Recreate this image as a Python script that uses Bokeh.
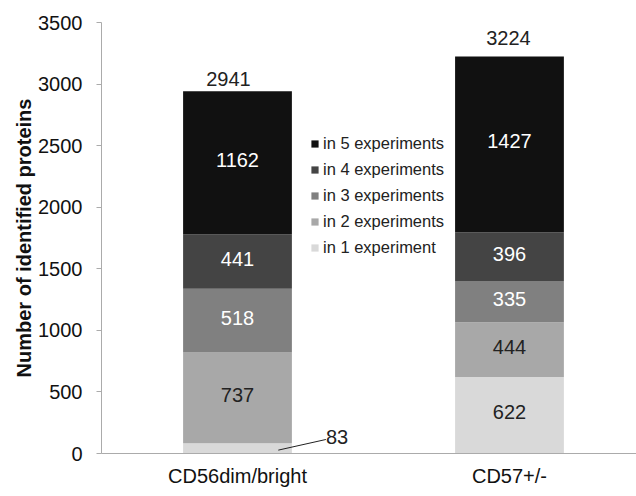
from bokeh.plotting import figure
from bokeh.models import Range1d, FixedTicker, ColumnDataSource, Legend, LegendItem
from bokeh.embed import file_html
from bokeh.resources import INLINE
from bokeh.core.properties import value
import numpy as np

# ---- data ----
categories = ["CD56dim/bright", "CD57+/-"]
series_names = ["in 1 experiment", "in 2 experiments", "in 3 experiments",
                "in 4 experiments", "in 5 experiments"]
in_1_exp = [83, 622]
in_2_exp = [737, 444]
in_3_exp = [518, 335]
in_4_exp = [441, 396]
in_5_exp = [1162, 1427]
totals = [2941, 3224]
y_ticks = [0, 500, 1000, 1500, 2000, 2500, 3000, 3500]

# ---- styles ----
FONT = "Liberation Sans"
colors = ["#d9d9d9", "#a8a8a8", "#808080", "#444444", "#111111"]
label_colors = ["#222222", "#222222", "#ffffff", "#ffffff", "#ffffff"]
total_dx = [-9, -1]
total_dy = [-5, -11]
bar_width = 0.40

series = [in_1_exp, in_2_exp, in_3_exp, in_4_exp, in_5_exp]
xpos = np.arange(len(categories)) + 0.5

p = figure(width=636, height=496, output_backend="svg", toolbar_location=None,
           x_range=Range1d(0, 1.967), y_range=Range1d(0, 3500),
           min_border_left=101, min_border_right=0, min_border_top=22, min_border_bottom=43)
p.outline_line_color = None
p.xgrid.visible = False
p.ygrid.visible = False

bottom = np.zeros(len(categories))
renderers = []
for i, vals in enumerate(series):
    vals = np.array(vals, dtype=float)
    top = bottom + vals
    src = ColumnDataSource(dict(x=xpos, bottom=bottom, top=top))
    r = p.vbar(x="x", bottom="bottom", top="top", width=bar_width, source=src,
               fill_color=colors[i], line_color=None)
    renderers.append(r)
    inside = vals >= 150
    mid = (bottom + top) / 2
    lsrc = ColumnDataSource(dict(x=xpos[inside], y=mid[inside],
                                 t=[str(int(v)) for v in vals[inside]]))
    p.text(x="x", y="y", text="t", source=lsrc, text_align="center",
           text_baseline="middle", y_offset=-3, text_color=label_colors[i],
           text_font=value(FONT), text_font_size="20px")
    # small segments: label outside with a leader line
    out = ~inside
    if out.any():
        xo = xpos[out]
        vo = vals[out]
        bo = bottom[out]
        p.segment(x0=xo + 0.15, y0=bo + vo * 0.33, x1=xo + 0.325, y1=bo + vo * 1.37,
                  line_color="#222222", line_width=1)
        osrc = ColumnDataSource(dict(x=xo + 0.325, y=bo + vo * 1.37,
                                     t=[str(int(v)) for v in vo]))
        p.text(x="x", y="y", text="t", source=osrc, text_align="left",
               text_baseline="middle", x_offset=0, y_offset=-2,
               text_color="#222222", text_font=value(FONT), text_font_size="20px")
    bottom = top

# totals above bars
tsrc = ColumnDataSource(dict(x=xpos, y=totals, t=[str(v) for v in totals],
                             dx=total_dx, dy=total_dy))
p.text(x="x", y="y", text="t", source=tsrc, x_offset="dx", y_offset="dy",
       text_align="center", text_baseline="bottom", text_color="#222222",
       text_font=value(FONT), text_font_size="20px")

# legend
items = [LegendItem(label=series_names[i], renderers=[renderers[i]])
         for i in reversed(range(len(series)))]
legend = Legend(items=items, location=(209, 196), orientation="vertical",
                glyph_width=9, glyph_height=9, label_standoff=4, spacing=6,
                label_height=20, padding=0, margin=0,
                border_line_color=None, background_fill_color="white",
                background_fill_alpha=1.0,
                label_text_font=FONT, label_text_font_size="16.5px",
                label_text_color="#222222")
p.add_layout(legend)

# axes
axis_color = "#ababab"
p.xaxis.ticker = FixedTicker(ticks=list(xpos))
p.xaxis.major_label_overrides = {float(x): c for x, c in zip(xpos, categories)}
p.xaxis.major_tick_line_color = None
p.xaxis.minor_tick_line_color = None
p.xaxis.axis_line_color = axis_color
p.xaxis.major_label_standoff = 5
p.xaxis.major_label_text_font = FONT
p.xaxis.major_label_text_font_size = "20px"
p.xaxis.major_label_text_color = "#111111"

p.yaxis.ticker = FixedTicker(ticks=y_ticks)
p.yaxis.minor_tick_line_color = None
p.yaxis.major_tick_in = 0
p.yaxis.major_tick_out = 5
p.yaxis.major_tick_line_color = axis_color
p.yaxis.axis_line_color = axis_color
p.yaxis.major_label_standoff = 14
p.yaxis.major_label_text_font = FONT
p.yaxis.major_label_text_font_size = "20px"
p.yaxis.major_label_text_color = "#111111"
p.yaxis.axis_label = "Number of identified proteins"
p.yaxis.axis_label_text_font = FONT
p.yaxis.axis_label_text_font_size = "20px"
p.yaxis.axis_label_text_font_style = "bold"
p.yaxis.axis_label_text_color = "#111111"
p.yaxis.axis_label_standoff = 0

open("out.html", "w").write(file_html(p, INLINE))
